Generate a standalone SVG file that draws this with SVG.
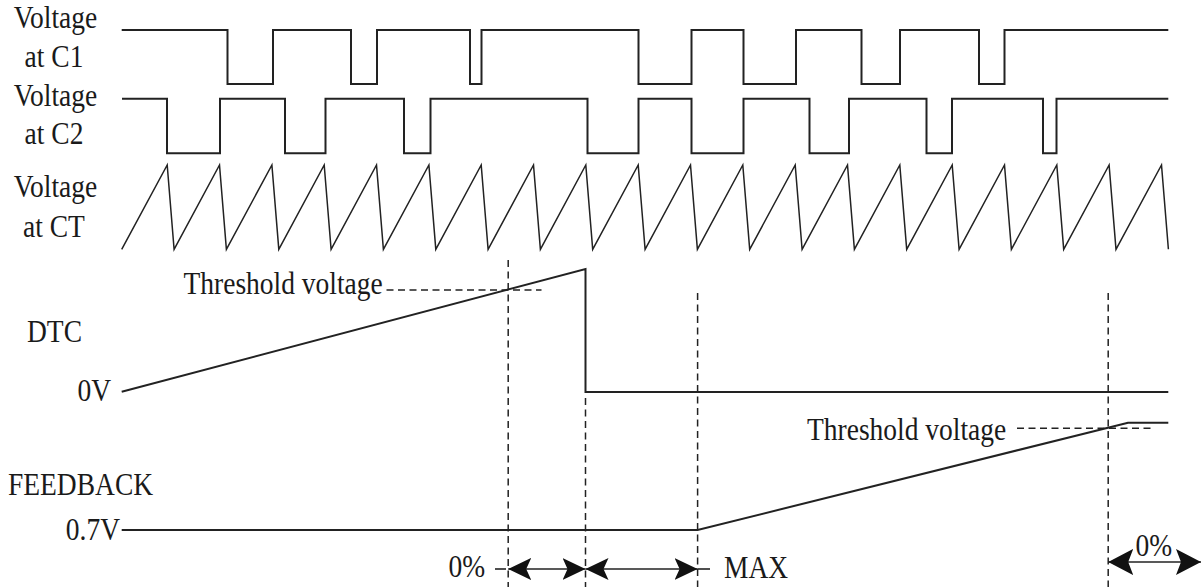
<svg xmlns="http://www.w3.org/2000/svg" width="1202" height="587" viewBox="0 0 1202 587">
<style>
.t{font-family:"Liberation Serif","Times New Roman",serif;font-size:27.5px;fill:#1a1a1a}
.m{text-anchor:middle}
.e{text-anchor:end}
.w{fill:none;stroke:#222;stroke-width:2;stroke-linejoin:miter}
.s{fill:none;stroke:#222;stroke-width:1.5;stroke-linejoin:miter}
.d{fill:none;stroke:#222;stroke-width:1.5;stroke-dasharray:7 4.5}
.a{fill:none;stroke:#222;stroke-width:1.6}
</style>
<defs>
<marker id="ah" markerUnits="userSpaceOnUse" viewBox="0 0 23 22" refX="23" refY="11" markerWidth="23" markerHeight="22" orient="auto-start-reverse">
<path d="M0,0 L23,11 L0,22 L5,11 Z" fill="#111"/>
</marker>
<marker id="ahb" markerUnits="userSpaceOnUse" viewBox="0 0 25 26" refX="25" refY="13" markerWidth="25" markerHeight="26" orient="auto-start-reverse">
<path d="M0,0 L25,13 L0,26 L5,13 Z" fill="#111"/>
</marker>
</defs>
<rect width="1202" height="587" fill="#fff"/>
<g id="labels">
<text class="t m" transform="translate(55.5 28) scale(1 1.15)">Voltage</text>
<text class="t m" transform="translate(54 67) scale(1 1.15)">at C1</text>
<text class="t m" transform="translate(55.5 106) scale(1 1.15)">Voltage</text>
<text class="t m" transform="translate(54 144) scale(1 1.15)">at C2</text>
<text class="t m" transform="translate(55.5 197) scale(1 1.15)">Voltage</text>
<text class="t m" transform="translate(54 237) scale(1 1.15)">at CT</text>
<text class="t" transform="translate(27 341.5) scale(1 1.15)">DTC</text>
<text class="t e" transform="translate(111 401) scale(1 1.15)">0V</text>
<text class="t" transform="translate(8 495) scale(1 1.15)">FEEDBACK</text>
<text class="t e" transform="translate(120 540) scale(1 1.15)">0.7V</text>
</g>
<g id="c1">
<path class="w" d="M121.7,30 H227.5 V84 H273 V30 H351 V84 H377 V30 H470 V84 H481.5 V30 H638.5 V84 H691.5 V30 H743.5 V84 H796 V30 H861.5 V84 H900 V30 H979 V84 H1004.5 V30 H1168.3"/>
</g>
<g id="c2">
<path class="w" d="M122,98.7 H167 V153.3 H220 V98.7 H285 V153.3 H325.5 V98.7 H404 V153.3 H430.5 V98.7 H587.5 V153.3 H638.5 V98.7 H691.5 V153.3 H743.5 V98.7 H809.5 V153.3 H849 V98.7 H926.5 V153.3 H952 V98.7 H1043 V153.3 H1056.5 V98.7 H1168.3"/>
</g>
<g id="ct">
<path class="s" d="M121.7,249.3 L167.2,165 L174.1,249.3 L219.5,165 L226.4,249.3 L271.9,165 L278.8,249.3 L324.2,165 L331.1,249.3 L376.5,165 L383.4,249.3 L428.9,165 L435.8,249.3 L481.2,165 L488.1,249.3 L533.5,165 L540.4,249.3 L585.8,165 L592.7,249.3 L638.2,165 L645.1,249.3 L690.5,165 L697.4,249.3 L742.8,165 L749.7,249.3 L795.2,165 L802.1,249.3 L847.5,165 L854.4,249.3 L899.8,165 L906.7,249.3 L952.2,165 L959.1,249.3 L1004.5,165 L1011.4,249.3 L1056.8,165 L1063.7,249.3 L1109.1,165 L1116,249.3 L1161.5,165 L1168.4,249.3"/>
</g>
<g id="dtc">
<path class="w" d="M121.7,391.7 L585.5,269 V392 H1168.3"/>
<line class="d" x1="386.5" y1="290" x2="541.5" y2="290"/>
<text class="t" transform="translate(183.5 294) scale(1 1.15)">Threshold voltage</text>
</g>
<g id="feedback">
<path class="w" d="M121.7,530 H697.6 L1128,422.7 H1168.3"/>
<line class="d" x1="1017" y1="428.3" x2="1153" y2="428.3"/>
<text class="t" transform="translate(807 440) scale(1 1.15)">Threshold voltage</text>
</g>
<g id="markers">
<line class="d" x1="508.2" y1="260" x2="508.2" y2="587"/>
<line class="d" x1="585.5" y1="398" x2="585.5" y2="587"/>
<line class="d" x1="697.6" y1="293" x2="697.6" y2="587"/>
<line class="d" x1="1108.2" y1="293" x2="1108.2" y2="587"/>
</g>
<g id="connectors">
<line class="a" x1="508.2" y1="569" x2="585.5" y2="569" marker-start="url(#ah)" marker-end="url(#ah)"/>
<line class="a" x1="585.5" y1="569" x2="697.6" y2="569" marker-start="url(#ah)" marker-end="url(#ah)"/>
<line class="a" x1="1108.2" y1="562" x2="1201" y2="562" marker-start="url(#ahb)" marker-end="url(#ahb)"/>
<line class="a" x1="495" y1="569" x2="506" y2="569"/>
<line class="a" x1="697.6" y1="569" x2="710" y2="569"/>
</g>
<g id="durations">
<text class="t" transform="translate(448.5 577) scale(1 1.15)">0%</text>
<text class="t" transform="translate(724 578) scale(1 1.15)">MAX</text>
<text class="t" transform="translate(1135.5 556) scale(1 1.15)">0%</text>
</g>
</svg>
